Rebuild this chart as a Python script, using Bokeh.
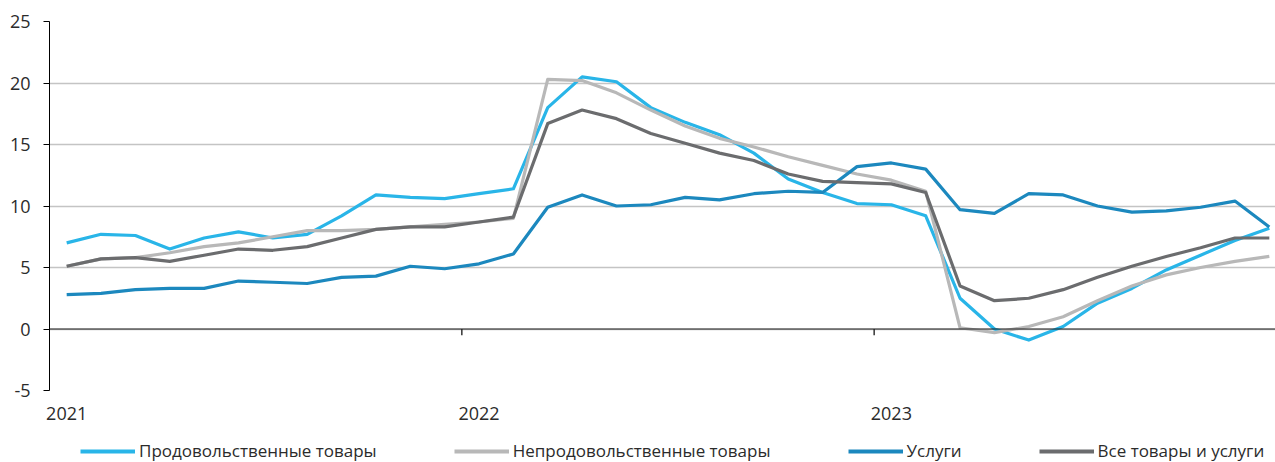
from bokeh.plotting import figure
from bokeh.models import FixedTicker, Legend, LegendItem, Span, ColumnDataSource, Range1d
from bokeh.layouts import column
from bokeh.embed import file_html
from bokeh.resources import INLINE

# ---- data (monthly, Jan 2021 .. Dec 2023, % y/y) ----
years = ["2021", "2022", "2023"]
food = [7.0, 7.7, 7.6, 6.5, 7.4, 7.9, 7.4, 7.7, 9.2, 10.9, 10.7, 10.6,
        11.0, 11.4, 18.0, 20.5, 20.1, 18.0, 16.8, 15.8, 14.3, 12.2, 11.1, 10.2,
        10.1, 9.2, 2.5, 0.0, -0.9, 0.2, 2.1, 3.3, 4.8, 6.0, 7.2, 8.2]
nonfood = [5.1, 5.7, 5.8, 6.2, 6.7, 7.0, 7.5, 8.0, 8.0, 8.1, 8.3, 8.5,
           8.7, 9.0, 20.3, 20.2, 19.2, 17.8, 16.5, 15.5, 14.8, 14.0, 13.3, 12.6,
           12.1, 11.2, 0.1, -0.3, 0.2, 1.0, 2.3, 3.5, 4.4, 5.0, 5.5, 5.9]
services = [2.8, 2.9, 3.2, 3.3, 3.3, 3.9, 3.8, 3.7, 4.2, 4.3, 5.1, 4.9,
            5.3, 6.1, 9.9, 10.9, 10.0, 10.1, 10.7, 10.5, 11.0, 11.2, 11.1, 13.2,
            13.5, 13.0, 9.7, 9.4, 11.0, 10.9, 10.0, 9.5, 9.6, 9.9, 10.4, 8.3]
all_items = [5.1, 5.7, 5.8, 5.5, 6.0, 6.5, 6.4, 6.7, 7.4, 8.1, 8.3, 8.3,
             8.7, 9.1, 16.7, 17.8, 17.1, 15.9, 15.1, 14.3, 13.7, 12.6, 12.0, 11.9,
             11.8, 11.1, 3.5, 2.3, 2.5, 3.2, 4.2, 5.1, 5.9, 6.6, 7.4, 7.4]
series_names = ["Продовольственные товары", "Непродовольственные товары",
                "Услуги", "Все товары и услуги"]
y_ticks = [-5, 0, 5, 10, 15, 20, 25]

colors = ["#29B5E8", "#B8B8B8", "#1C88BE", "#6B6C6E"]
FONT = "Open Sans"
TXT = "#2b2b2b"

n = len(food)
months = list(range(n))
label_pos = [12 * k for k in range(len(years))]
sep_pos = [12 * k - 0.5 for k in range(1, len(years))]

p = figure(width=1275, height=432, output_backend="svg", toolbar_location=None,
           x_range=(-0.5, 35.18), y_range=(y_ticks[0], y_ticks[-1]),
           min_border_left=49, min_border_right=0, min_border_top=21,
           min_border_bottom=42)
p.outline_line_color = None
p.background_fill_color = "white"
p.border_fill_color = "white"

# grid
p.xgrid.grid_line_color = None
p.ygrid.ticker = FixedTicker(ticks=y_ticks)
p.ygrid.grid_line_color = "#C4C4C4"
p.ygrid.grid_line_width = 1.5

# y axis
p.yaxis.ticker = FixedTicker(ticks=y_ticks)
p.yaxis.major_label_overrides = {t: str(t) for t in y_ticks}
p.yaxis.axis_line_color = "#000000"
p.yaxis.major_tick_line_color = "#000000"
p.yaxis.major_tick_out = 6
p.yaxis.major_tick_in = 0
p.yaxis.minor_tick_line_color = None
p.yaxis.major_label_standoff = 13
p.yaxis.major_label_text_font = FONT
p.yaxis.major_label_text_font_size = "18px"
p.yaxis.major_label_text_color = TXT

# x axis (labels only)
p.xaxis.ticker = FixedTicker(ticks=label_pos)
p.xaxis.major_label_overrides = {pos: yr for pos, yr in zip(label_pos, years)}
p.xaxis.axis_line_color = None
p.xaxis.major_tick_line_color = None
p.xaxis.minor_tick_line_color = None
p.xaxis.major_label_standoff = 10
p.xaxis.major_label_text_font = FONT
p.xaxis.major_label_text_font_size = "18px"
p.xaxis.major_label_text_color = TXT

# zero line and year separators
p.add_layout(Span(location=0, dimension="width", line_color="#1a1a1a", line_width=1.2))
p.segment(x0=sep_pos, x1=sep_pos, y0=[0] * len(sep_pos), y1=[-0.5] * len(sep_pos),
          line_color="#333333", line_width=1.5)

for vals, col in zip([food, nonfood, services, all_items], colors):
    src = ColumnDataSource(dict(x=months, y=vals))
    p.line("x", "y", source=src, line_color=col, line_width=3.2, line_join="round")

# ---- legend strip (frames are aligned with the chart by the column layout) ----
lg = figure(width=1275, height=30, output_backend="svg", toolbar_location=None,
            x_range=Range1d(0, 1), y_range=Range1d(0, 1),
            min_border_left=0, min_border_right=0, min_border_top=0, min_border_bottom=0)
lg.axis.visible = False
lg.grid.visible = False
lg.outline_line_color = None
lg.background_fill_color = "white"
lg.border_fill_color = "white"
items = []
nan = float("nan")
for nm, col in zip(series_names, colors):
    r = lg.line(x=[nan], y=[nan], line_color=col, line_width=4)
    items.append(LegendItem(label=nm, renderers=[r]))

legend = Legend(items=items, orientation="horizontal", location=(31, 0))
legend.glyph_width = 55
legend.glyph_height = 20
legend.label_height = 20
legend.label_standoff = 4
legend.spacing = 77
legend.padding = 0
legend.margin = 0
legend.border_line_color = None
legend.background_fill_alpha = 0
legend.label_text_font = FONT
legend.label_text_font_size = "17px"
legend.label_text_color = TXT
lg.add_layout(legend, "center")

layout = column(p, lg, spacing=0)
open("out.html", "w").write(file_html(layout, INLINE))
